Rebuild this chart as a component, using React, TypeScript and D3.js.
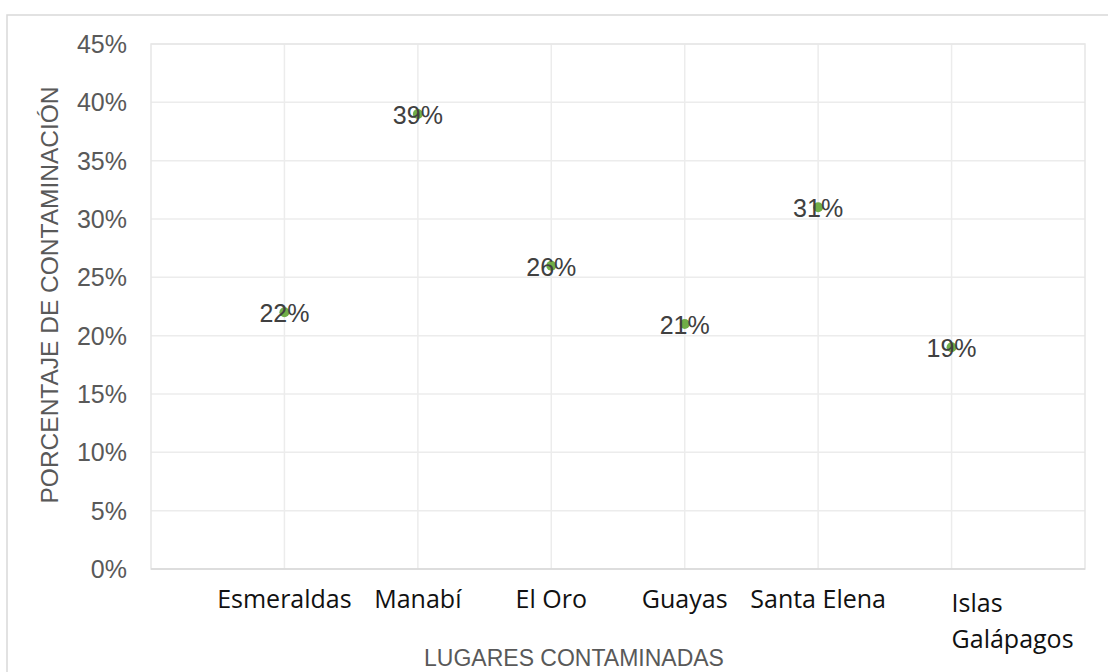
import React from "react";
import * as d3 from "d3";

const categories = ["Esmeraldas", "Manabí", "El Oro", "Guayas", "Santa Elena", "Islas Galápagos"];
const values = [22, 39, 26, 21, 31, 19];
const yTicks = [0, 5, 10, 15, 20, 25, 30, 35, 40, 45];
const yTitle = "PORCENTAJE DE CONTAMINACIÓN";
const xTitle = "LUGARES CONTAMINADAS";

const W = 1108;
const H = 672;
const plot = { left: 151, right: 1085, top: 44, bottom: 569 };

export default function App() {
  const x = d3.scalePoint<string>().domain(categories).range([plot.left, plot.right]).padding(1);
  const y = d3.scaleLinear().domain([0, 45]).range([plot.bottom, plot.top]);

  const wrap = (label: string) => (label === "Islas Galápagos" ? ["Islas", "Galápagos"] : [label]);

  return (
    <div style={{ position: "absolute", left: 0, top: 0 }}>
      <svg width={W} height={H} style={{ display: "block", background: "#fff" }}>
        <rect x={7} y={15} width={1200} height={800} fill="#fff" stroke="#d9d9d9" strokeWidth={1.5} />
        {/* horizontal gridlines */}
        {yTicks.map((t) => (
          <line key={"h" + t} x1={plot.left} x2={plot.right} y1={y(t)} y2={y(t)} stroke="#ececec" strokeWidth={1.5} />
        ))}
        {/* vertical gridlines */}
        {categories.map((c) => (
          <line key={"v" + c} x1={x(c)} x2={x(c)} y1={plot.top} y2={plot.bottom} stroke="#ececec" strokeWidth={1.5} />
        ))}
        <rect x={plot.left} y={plot.top} width={plot.right - plot.left} height={plot.bottom - plot.top} fill="none" stroke="#e6e6e6" strokeWidth={1.5} />
        <line x1={plot.left} x2={plot.right} y1={y(0)} y2={y(0)} stroke="#d9d9d9" strokeWidth={1.5} />
        {/* y tick labels */}
        {yTicks.map((t) => (
          <text key={"yl" + t} x={127} y={y(t)} textAnchor="end" dominantBaseline="central"
            fontFamily="'Liberation Sans', Arial, sans-serif" fontSize={25} fill="#595959">
            {t + "%"}
          </text>
        ))}
        {/* category labels */}
        {categories.map((c) => {
          const lines = wrap(c);
          const anchor = lines.length > 1 ? "start" : "middle";
          return (
            <text key={"xl" + c} x={x(c)} y={lines.length > 1 ? 612 : 608} textAnchor={anchor}
              fontFamily="'Open Sans', sans-serif" fontSize={25} fill="#111">
              {lines.map((line, i) => (
                <tspan key={i} x={x(c)} dy={i === 0 ? 0 : 36}>{line}</tspan>
              ))}
            </text>
          );
        })}
        {/* points */}
        {categories.map((c, i) => (
          <circle key={"p" + c} cx={x(c)} cy={y(values[i])} r={5} fill="#70AD47" />
        ))}
        {/* data labels */}
        {categories.map((c, i) => (
          <text key={"dl" + c} x={x(c)} y={y(values[i]) + 1} textAnchor="middle" dominantBaseline="central"
            fontFamily="'Liberation Sans', Arial, sans-serif" fontSize={25} fill="#404040">
            {values[i] + "%"}
          </text>
        ))}
        {/* axis titles */}
        <text x={574} y={666} textAnchor="middle"
          fontFamily="'Liberation Sans', Arial, sans-serif" fontSize={23} fill="#595959">
          {xTitle}
        </text>
        <text transform={`translate(58, 295) rotate(-90)`} textAnchor="middle"
          fontFamily="'Liberation Sans', Arial, sans-serif" fontSize={24.5} fill="#595959">
          {yTitle}
        </text>
      </svg>
    </div>
  );
}
